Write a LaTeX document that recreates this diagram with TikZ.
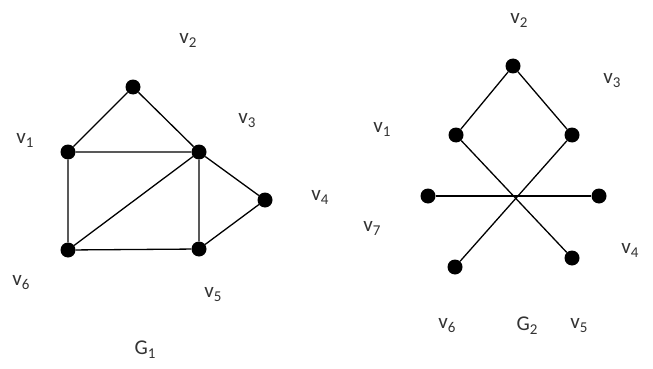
\documentclass[tikz,border=0pt]{standalone}
\usepackage{fontspec}
\setmainfont{Carlito}
\newcommand{\sbx}[1]{\raisebox{-4pt}{\fontsize{15}{18}\selectfont #1}}
\begin{document}
\begin{tikzpicture}[x=1pt,y=-1pt,
  vtx/.style={circle,fill=black,inner sep=0pt,minimum size=15pt},
  lbl/.style={text=black!80,font=\fontsize{21}{24}\selectfont,inner sep=0pt},
  edge/.style={line width=1.3pt}]
\useasboundingbox[fill=white] (0,0) rectangle (653,369);
% G1
\node[vtx] (a2) at (133,87) {};
\node[vtx] (a1) at (68,152) {};
\node[vtx] (a3) at (199,152) {};
\node[vtx] (a4) at (265,200) {};
\node[vtx] (a6) at (68,250) {};
\node[vtx] (a5) at (199,249) {};
\draw[edge] (a1) -- (a2) -- (a3) -- (a1);
\draw[edge] (a3) -- (a4) -- (a5) -- (a3);
\draw[edge] (a1) -- (a6) -- (a5);
\draw[edge] (a6) -- (a3);
\node[lbl] (la2) at (188,40) {v\sbx{2}};
\node[lbl] (la1) at (25,140) {v\sbx{1}};
\node[lbl] (la3) at (247,121) {v\sbx{3}};
\node[lbl] (la4) at (320,197) {v\sbx{4}};
\node[lbl] (la6) at (21,283) {v\sbx{6}};
\node[lbl] (la5) at (213,295) {v\sbx{5}};
\node[lbl] (g1) at (145,350) {G\sbx{1}};
% G2
\node[vtx] (b2) at (513,66) {};
\node[vtx] (b1) at (456,135) {};
\node[vtx] (b3) at (572,135) {};
\node[vtx] (b7) at (428,196) {};
\node[vtx] (b4) at (599,196) {};
\node[vtx] (b6) at (455,267) {};
\node[vtx] (b5) at (572,258) {};
\draw[edge] (b1) -- (b2) -- (b3);
\draw[edge] (b1) -- (b5);
\draw[edge] (b3) -- (b6);
\draw[edge] (b7) -- (b4);
\node[lbl] (lb2) at (519,20) {v\sbx{2}};
\node[lbl] (lb3) at (612,81) {v\sbx{3}};
\node[lbl] (lb1) at (382,129) {v\sbx{1}};
\node[lbl] (lb7) at (372,228) {v\sbx{7}};
\node[lbl] (lb4) at (630,250) {v\sbx{4}};
\node[lbl] (lb6) at (447,326) {v\sbx{6}};
\node[lbl] (g2) at (527,326) {G\sbx{2}};
\node[lbl] (lb5) at (579,326) {v\sbx{5}};
\end{tikzpicture}
\end{document}
